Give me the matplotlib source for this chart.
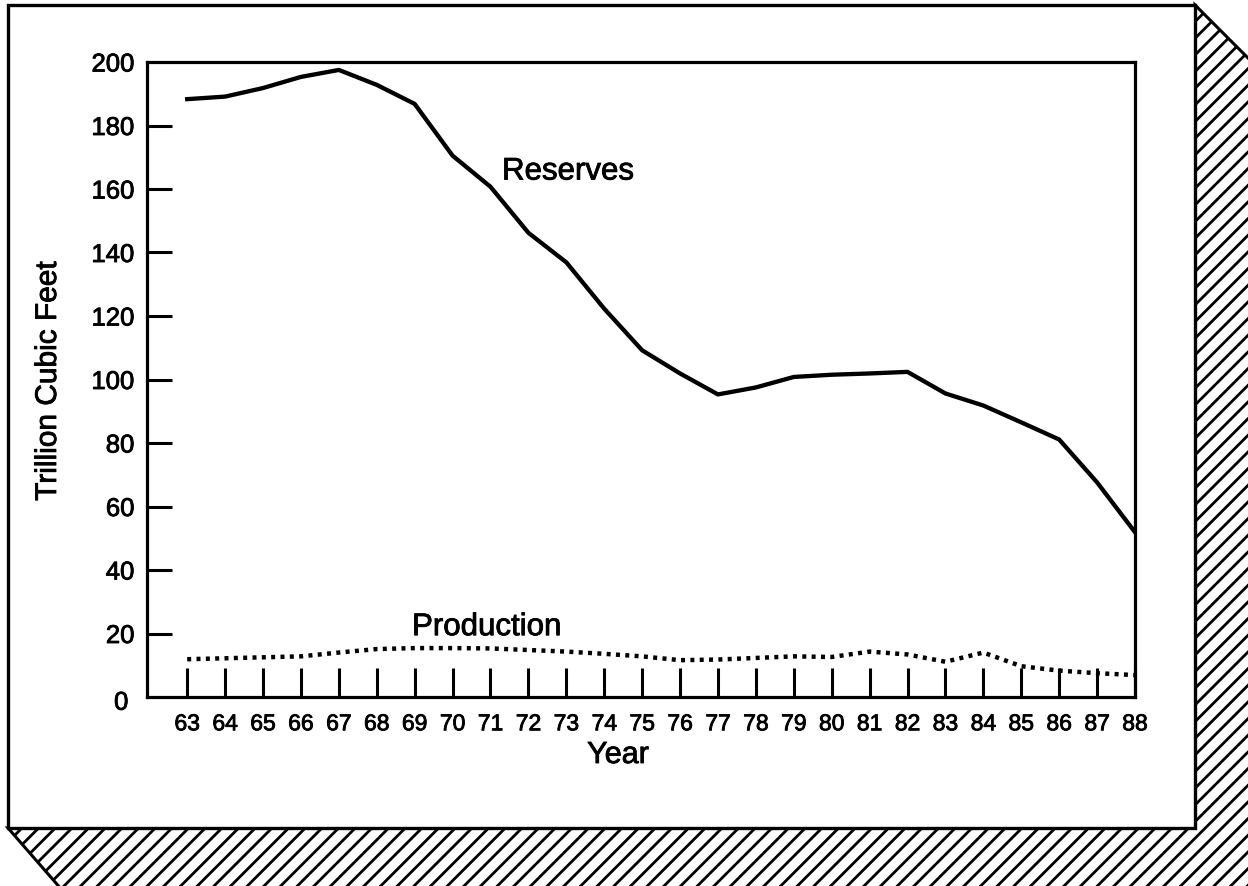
import matplotlib
matplotlib.use("Agg")
import matplotlib.pyplot as plt
import matplotlib.patheffects as pe
from matplotlib.patches import Polygon, Rectangle

plt.rcParams['font.family'] = ['Liberation Sans', 'DejaVu Sans']
plt.rcParams['hatch.linewidth'] = 2.0

years = list(range(63, 89))
year_labels = [str(y) for y in years]
reserves = [188.3, 189.1, 191.8, 195.3, 197.5, 192.8, 186.8, 170.5, 160.7, 146.2,
            136.9, 122.3, 109.2, 101.9, 95.3, 97.5, 100.8, 101.5, 101.9, 102.4,
            95.6, 91.8, 86.5, 81.1, 67.6, 51.9]
production = [11.9, 12.2, 12.5, 12.8, 14.0, 15.1, 15.4, 15.4, 15.3, 14.8,
              14.3, 13.6, 12.8, 11.6, 11.8, 12.3, 12.8, 12.6, 14.3, 13.4,
              11.1, 14.0, 9.7, 8.3, 7.5, 6.9]
y_ticks = [20, 40, 60, 80, 100, 120, 140, 160, 180, 200]

W, H = 1248, 886
fig = plt.figure(figsize=(W / 100, H / 100), dpi=100)
bold = [pe.withStroke(linewidth=0.6, foreground='black')]

def fx(px):
    return px / W

def fy(py):
    return 1 - py / H

# hatched shadow
shadow = Polygon([(fx(1195), fy(5)), (fx(1250), fy(60)), (fx(1250), fy(890)),
                  (fx(62), fy(890)), (fx(8), fy(828)), (fx(1195), fy(828))],
                 closed=True, transform=fig.transFigure, facecolor='white',
                 edgecolor='black', hatch='//', linewidth=2.2, zorder=0)
fig.patches.append(shadow)
# outer frame
frame = Rectangle((fx(8), fy(828)), fx(1195) - fx(8), fy(5) - fy(828),
                  transform=fig.transFigure, facecolor='white', edgecolor='black',
                  linewidth=2.4, zorder=1)
fig.patches.append(frame)

ax = fig.add_axes([fx(147), fy(697), fx(1135) - fx(147), fy(62) - fy(697)])
ax.set_zorder(2)
ax.plot(years, reserves, color='black', linewidth=3.1, solid_joinstyle='round')
ax.plot(years, production, color='black', linewidth=3.2, linestyle=(0, (0.9, 1.2)))

ax.set_xlim(61.94, 88)
ax.set_ylim(0, 200)
ax.set_xticks(years)
ax.set_xticklabels(year_labels, fontsize=16.5)
ax.set_yticks(y_ticks)
ax.set_yticklabels([str(v) for v in y_ticks], fontsize=18.5)
ax.tick_params(axis='x', direction='in', length=21, width=2.2, pad=11)
ax.tick_params(axis='y', direction='in', length=18, width=2.2, pad=9)
ax.yaxis.get_major_ticks()[-1].tick1line.set_visible(False)
for s in ax.spines.values():
    s.set_linewidth(2.3)
for t in ax.get_xticklabels() + ax.get_yticklabels():
    t.set_path_effects(bold)

ax.text(61.45, -1.8, '0', fontsize=18.5, ha='right', va='center', clip_on=False,
        path_effects=bold)

ax.text(73.05, 165.5, 'Reserves', fontsize=22.5, ha='center', va='center',
        path_effects=bold)
ax.text(70.9, 22, 'Production', fontsize=22.5, ha='center', va='center',
        path_effects=bold)

fig.text(fx(618), fy(755), 'Year', fontsize=22, ha='center', va='center',
         path_effects=bold)
fig.text(fx(48), fy(381), 'Trillion Cubic Feet', fontsize=21.5, ha='center',
         va='center', rotation=90, path_effects=bold)

fig.savefig('out.png', dpi=100)
